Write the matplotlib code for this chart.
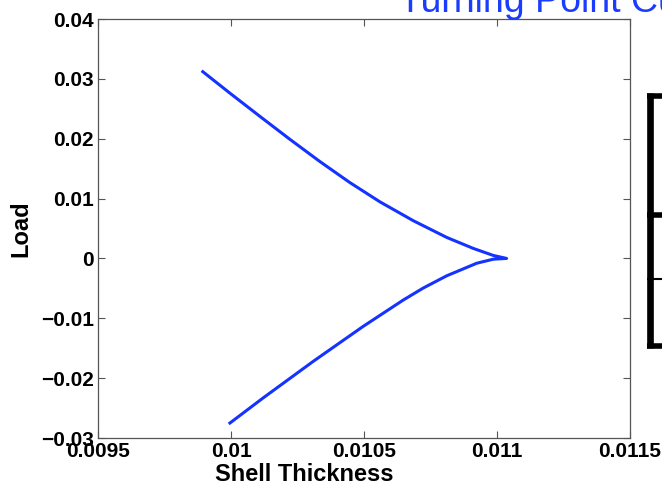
import matplotlib
matplotlib.use("Agg")
import matplotlib.pyplot as plt
from matplotlib.lines import Line2D

plt.rcParams['font.family'] = ['Liberation Sans', 'DejaVu Sans']

# shell thickness / load along the turning point curve
thickness = [0.009894, 0.009996, 0.010109, 0.010222, 0.010335, 0.010447, 0.010560,
             0.010685, 0.010811, 0.010911, 0.010986, 0.011036,
             0.010986, 0.010924, 0.010811, 0.010723, 0.010648, 0.010497,
             0.010309, 0.010121, 0.009996]
load = [0.03120, 0.02761, 0.02372, 0.01988, 0.01616, 0.01267, 0.00945,
        0.00631, 0.00351, 0.00167, 0.00050, 0.0,
        -0.00013, -0.00080, -0.00290, -0.00494, -0.00694, -0.01135,
        -0.01720, -0.02330, -0.02750]

xticks = [0.0095, 0.01, 0.0105, 0.011, 0.0115]
xtick_labels = ["0.0095", "0.01", "0.0105", "0.011", "0.0115"]
yticks = [-0.03, -0.02, -0.01, 0, 0.01, 0.02, 0.03, 0.04]
ytick_labels = ["\u22120.03", "\u22120.02", "\u22120.01", "0", "0.01", "0.02", "0.03", "0.04"]

W, H = 662, 488
fig = plt.figure(figsize=(W / 100, H / 100), dpi=100)
ax = fig.add_axes([98 / W, 1 - 438 / H, 532 / W, 419 / H])

ax.plot(thickness, load, color='#1433ff', linewidth=2.2)

ax.set_xlim(0.0095, 0.0115)
ax.set_ylim(-0.03, 0.04)
ax.set_xticks(xticks)
ax.set_xticklabels(xtick_labels)
ax.set_yticks(yticks)
ax.set_yticklabels(ytick_labels)
ax.tick_params(direction='in', length=5, width=0.8, color='#555555',
               top=True, right=True, labelsize=15, pad=3)
for lab in ax.get_xticklabels() + ax.get_yticklabels():
    lab.set_fontweight('bold')
for sp in ax.spines.values():
    sp.set_color('#555555')
    sp.set_linewidth(0.9)

ax.set_xlabel("Shell Thickness", fontsize=17, fontweight='bold')
ax.xaxis.set_label_coords((304 - 98) / 532, -0.06)
ax.set_ylabel("Load", fontsize=17, fontweight='bold')
ax.yaxis.set_label_coords(-0.124, 0.5)

# title, mostly cut off at the top of the frame
fig.text(399 / W, 1 - 12.5 / H, "Turning Point Curve", color='#1a3cff',
         fontsize=27, va='baseline', ha='left')

# part of the next panel peeking in at the right edge
def fline(x0, y0, x1, y1, lw):
    fig.add_artist(Line2D([x0 / W, x1 / W], [1 - y0 / H, 1 - y1 / H],
                          transform=fig.transFigure, color='black',
                          linewidth=lw, solid_capstyle='butt'))

fline(650, 92.7, 650, 348.3, 4.8)
fline(646.7, 95.5, 662, 95.5, 4.0)
fline(646.7, 215, 662, 215, 4.0)
fline(646.7, 279, 662, 279, 1.5)
fline(646.7, 345.5, 662, 345.5, 4.0)

fig.savefig("out.png", dpi=100)
